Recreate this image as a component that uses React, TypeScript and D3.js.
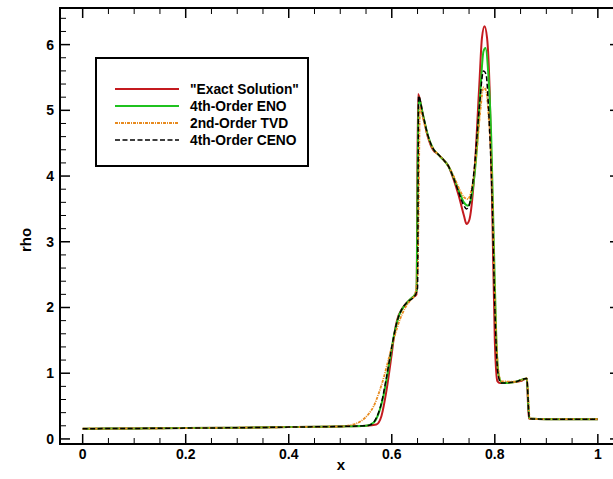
import React from "react";
import * as d3 from "d3";

const W = 613;
const H = 479;

// Series data: [x, rho]
const exactData: [number, number][] = [
  [0, 0.155], [0.1, 0.16], [0.2, 0.165], [0.3, 0.17], [0.4, 0.18], [0.5, 0.19], [0.55, 0.2],
  [0.57, 0.22], [0.58, 0.35], [0.59, 0.75], [0.6, 1.3], [0.605, 1.6], [0.61, 1.8], [0.62, 1.98],
  [0.63, 2.08], [0.64, 2.15], [0.648, 2.2], [0.651, 5.25], [0.66, 4.95], [0.67, 4.6], [0.68, 4.4],
  [0.69, 4.33], [0.7, 4.25], [0.71, 4.15], [0.72, 3.95], [0.73, 3.7], [0.74, 3.4], [0.745, 3.27],
  [0.75, 3.32], [0.76, 4.0], [0.77, 5.4], [0.775, 6.1], [0.78, 6.28], [0.785, 6.1], [0.79, 5.3],
  [0.795, 3.5], [0.8, 1.5], [0.805, 0.88], [0.81, 0.85], [0.83, 0.86], [0.85, 0.88], [0.862, 0.92],
  [0.866, 0.31], [0.9, 0.3], [1.0, 0.3],
];

const enoData: [number, number][] = [
  [0, 0.155], [0.1, 0.16], [0.2, 0.165], [0.3, 0.17], [0.4, 0.18], [0.5, 0.19], [0.55, 0.2],
  [0.565, 0.25], [0.575, 0.4], [0.585, 0.7], [0.595, 1.15], [0.605, 1.6], [0.615, 1.9],
  [0.625, 2.03], [0.635, 2.12], [0.645, 2.2], [0.648, 2.25], [0.652, 5.2], [0.66, 4.95],
  [0.67, 4.62], [0.68, 4.42], [0.69, 4.33], [0.7, 4.25], [0.71, 4.15], [0.72, 3.98], [0.73, 3.78],
  [0.74, 3.6], [0.748, 3.55], [0.755, 3.7], [0.765, 4.4], [0.772, 5.3], [0.778, 5.9], [0.782, 5.95],
  [0.787, 5.6], [0.793, 4.6], [0.798, 3.0], [0.803, 1.5], [0.808, 0.95], [0.815, 0.85],
  [0.84, 0.87], [0.862, 0.92], [0.867, 0.31], [0.9, 0.3], [1.0, 0.3],
];

const tvdData: [number, number][] = [
  [0, 0.155], [0.1, 0.16], [0.2, 0.165], [0.3, 0.17], [0.4, 0.18], [0.5, 0.19], [0.52, 0.21],
  [0.54, 0.27], [0.555, 0.38], [0.565, 0.5], [0.575, 0.7], [0.585, 0.95], [0.595, 1.25],
  [0.605, 1.55], [0.615, 1.8], [0.625, 1.98], [0.635, 2.1], [0.645, 2.2], [0.65, 2.5],
  [0.655, 5.05], [0.66, 4.9], [0.67, 4.6], [0.68, 4.42], [0.69, 4.33], [0.7, 4.25], [0.71, 4.15],
  [0.72, 4.0], [0.73, 3.82], [0.74, 3.68], [0.748, 3.65], [0.755, 3.8], [0.765, 4.4], [0.772, 5.0],
  [0.778, 5.35], [0.783, 5.3], [0.788, 4.9], [0.795, 3.8], [0.8, 2.2], [0.806, 1.1], [0.812, 0.88],
  [0.84, 0.87], [0.862, 0.92], [0.868, 0.31], [0.9, 0.3], [1.0, 0.3],
];

const cenoData: [number, number][] = [
  [0, 0.155], [0.1, 0.16], [0.2, 0.165], [0.3, 0.17], [0.4, 0.18], [0.5, 0.19], [0.55, 0.2],
  [0.56, 0.22], [0.57, 0.32], [0.58, 0.55], [0.59, 0.95], [0.6, 1.4], [0.61, 1.78], [0.62, 1.98],
  [0.63, 2.08], [0.645, 2.18], [0.65, 2.3], [0.652, 5.22], [0.66, 4.95], [0.67, 4.62], [0.68, 4.42],
  [0.69, 4.33], [0.7, 4.25], [0.71, 4.15], [0.72, 3.97], [0.73, 3.75], [0.74, 3.55], [0.745, 3.5],
  [0.75, 3.55], [0.76, 4.1], [0.77, 5.05], [0.778, 5.6], [0.783, 5.55], [0.788, 5.0], [0.795, 3.6],
  [0.8, 2.0], [0.806, 1.0], [0.812, 0.85], [0.84, 0.87], [0.862, 0.92], [0.867, 0.31], [0.9, 0.3],
  [1.0, 0.3],
];

const seriesNames = ['"Exact Solution"', "4th-Order ENO", "2nd-Order TVD", "4th-Order CENO"];
const seriesColors = ["#c41a1f", "#1fc21f", "#e88a1e", "#000000"];
const seriesDash = ["none", "none", "3,1,1,1", "5,2.5"];
const seriesWidth = [2, 2, 1.8, 1.5];
const seriesData = [exactData, enoData, tvdData, cenoData];

const xTicks = [0, 0.2, 0.4, 0.6, 0.8, 1];
const yTicks = [0, 1, 2, 3, 4, 5, 6];

const FONT = "'Liberation Sans', Arial, Helvetica, sans-serif";

export default function App() {
  const left = 60, right = 620, top = 8, bottom = 444;
  const x = d3.scaleLinear().domain([-0.044, 1.043]).range([left, right]);
  const y = d3.scaleLinear().domain([-0.077, 6.557]).range([bottom, top]);

  const line = d3
    .line<[number, number]>()
    .x((d) => x(d[0]))
    .y((d) => y(d[1]))
    .curve(d3.curveMonotoneX);

  const xMinor = d3.range(0, 1.0001, 0.05).filter((v) => Math.abs(v * 5 - Math.round(v * 5)) > 1e-6);
  const yMinor = d3.range(0, 6.5, 0.2).filter((v) => Math.abs(v - Math.round(v)) > 1e-6);

  const legendX = 96, legendY = 58, legendW = 212, legendH = 108;
  const rowY = [89, 106, 123, 140];

  return (
    <svg
      width={W}
      height={H}
      style={{ position: "absolute", left: 0, top: 0, background: "#fff" }}
      fontFamily={FONT}
    >
      <defs>
        <clipPath id="plotclip">
          <rect x={left} y={top} width={right - left} height={bottom - top} />
        </clipPath>
      </defs>
      <rect x={0} y={0} width={W} height={H} fill="#fff" />

      <g clipPath="url(#plotclip)">
        {seriesData.map((d, i) => (
          <path
            key={i}
            d={line(d) || ""}
            fill="none"
            stroke={seriesColors[i]}
            strokeWidth={seriesWidth[i]}
            strokeDasharray={seriesDash[i] === "none" ? undefined : seriesDash[i]}
            strokeLinejoin="round"
          />
        ))}
      </g>

      {/* ticks */}
      <g stroke="#000" strokeWidth={1}>
        {xTicks.map((t) => (
          <g key={"xt" + t}>
            <line x1={x(t)} x2={x(t)} y1={bottom} y2={bottom - 10} strokeWidth={1.5} />
            <line x1={x(t)} x2={x(t)} y1={top} y2={top + 10} strokeWidth={1.5} />
          </g>
        ))}
        {xMinor.map((t) => (
          <g key={"xm" + t}>
            <line x1={x(t)} x2={x(t)} y1={bottom} y2={bottom - 6} />
            <line x1={x(t)} x2={x(t)} y1={top} y2={top + 6} />
          </g>
        ))}
        {yTicks.map((t) => (
          <g key={"yt" + t}>
            <line x1={left} x2={left + 10} y1={y(t)} y2={y(t)} strokeWidth={1.5} />
            <line x1={right} x2={right - 10} y1={y(t)} y2={y(t)} strokeWidth={1.5} />
          </g>
        ))}
        {yMinor.map((t) => (
          <g key={"ym" + t}>
            <line x1={left} x2={left + 6} y1={y(t)} y2={y(t)} />
            <line x1={right} x2={right - 6} y1={y(t)} y2={y(t)} />
          </g>
        ))}
      </g>

      {/* frame */}
      <rect x={left} y={top} width={right - left} height={bottom - top} fill="none" stroke="#000" strokeWidth={2} />

      {/* tick labels */}
      <g fontSize={14} fontWeight="bold" fill="#000">
        {xTicks.map((t) => (
          <text key={"xl" + t} x={x(t)} y={459} textAnchor="middle">
            {d3.format("~g")(t)}
          </text>
        ))}
        {yTicks.map((t) => (
          <text key={"yl" + t} x={54} y={y(t) + 5} textAnchor="end">
            {t}
          </text>
        ))}
      </g>

      {/* axis titles */}
      <text x={341} y={470} textAnchor="middle" fontSize={15} fontWeight="bold">x</text>
      <text
        x={0}
        y={0}
        transform={`translate(31,240) rotate(-90)`}
        textAnchor="middle"
        fontSize={15}
        fontWeight="bold"
      >
        rho
      </text>

      {/* legend */}
      <rect x={legendX} y={legendY} width={legendW} height={legendH} fill="#fff" stroke="#000" strokeWidth={2} />
      {seriesNames.map((name, i) => (
        <g key={"lg" + i}>
          <line
            x1={115}
            x2={179}
            y1={rowY[i]}
            y2={rowY[i]}
            stroke={seriesColors[i]}
            strokeWidth={seriesWidth[i]}
            strokeDasharray={seriesDash[i] === "none" ? undefined : seriesDash[i]}
          />
          <text x={190} y={rowY[i] + 5} fontSize={13.8} fontWeight="bold">
            {name}
          </text>
        </g>
      ))}
    </svg>
  );
}
